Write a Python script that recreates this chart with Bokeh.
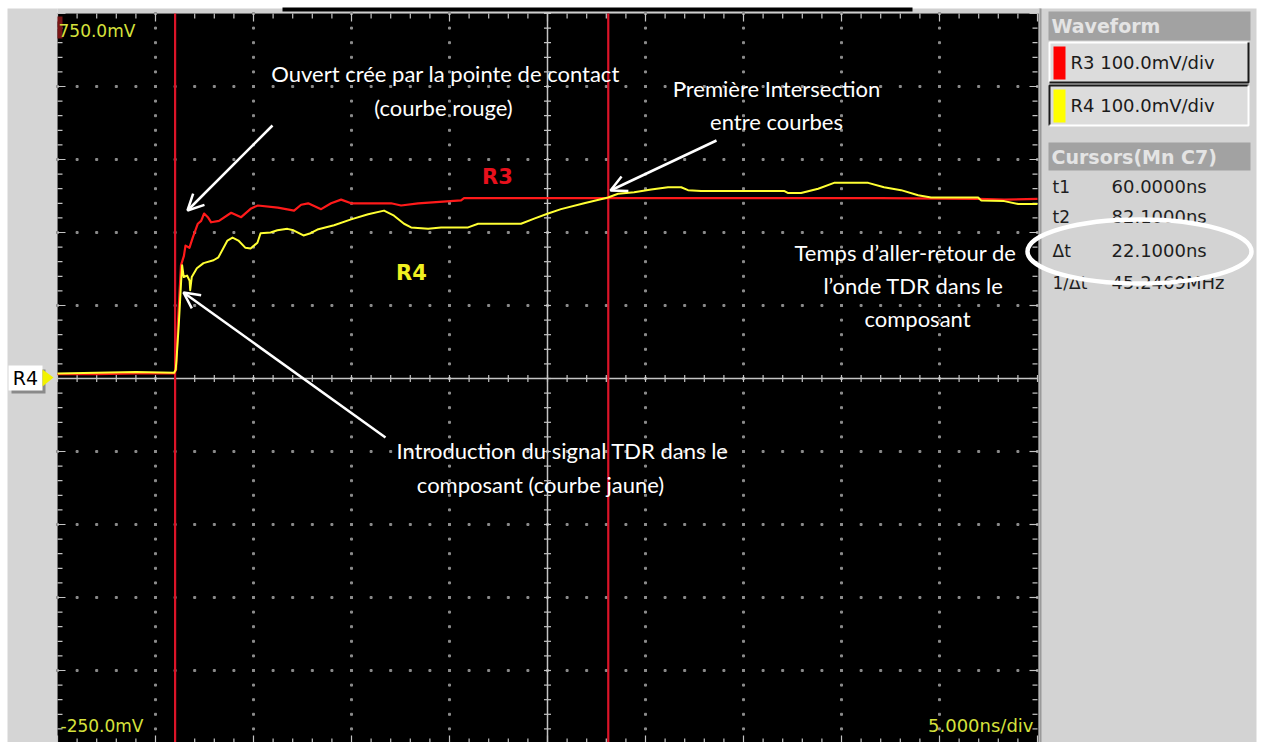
import numpy as np
from bokeh.plotting import figure
from bokeh.models import Range1d, Label, Arrow, OpenHead
from bokeh.embed import file_html
from bokeh.resources import INLINE

# ---------------- data ----------------
r4_time_ns = [54.0, 56.0, 58.0, 59.95, 60.03, 60.07, 60.19, 60.31, 60.36, 60.44, 60.61,
              60.74, 60.77, 60.85, 61.11, 61.45, 61.96, 62.21, 62.67, 62.93, 63.23, 63.59,
              63.85, 64.20, 64.36, 64.87, 65.22, 65.73, 66.04, 66.55, 66.91, 67.26, 68.11,
              68.98, 69.85, 70.66, 71.17, 71.68, 72.04, 72.91, 73.57, 74.95, 75.46, 77.65,
              78.32, 79.03, 79.69, 80.87, 82.09, 82.60, 83.42, 84.29, 85.15, 85.82, 86.17,
              86.84, 91.07, 91.28, 91.94, 92.81, 93.62, 95.36, 96.17, 97.04, 97.91, 98.57,
              100.97, 101.12, 102.30, 103.01, 104.0]
r4_mv = [257, 258, 259, 258, 262, 275, 325, 384, 405, 389, 391,
         384, 371, 389, 401, 408, 412, 416, 439, 443, 439, 429,
         428, 436, 449, 450, 453, 455, 453, 446, 449, 454, 460,
         468, 475, 480, 473, 462, 457, 455, 457, 457, 462, 462,
         469, 476, 482, 490, 498, 503, 505, 509, 512, 512, 508,
         507, 507, 504, 504, 510, 518, 518, 512, 508, 501, 498,
         498, 494, 493, 489, 489]

r3_time_ns = [54.0, 56.0, 58.0, 59.95, 60.05, 60.15, 60.30, 60.45, 60.53, 60.73, 60.90,
              61.16, 61.33, 61.48, 61.67, 61.84, 62.24, 62.86, 63.37, 63.88, 64.22, 65.24,
              66.07, 66.43, 66.79, 67.45, 67.96, 68.47, 68.98, 71.02, 71.53, 72.40, 74.59,
              74.74, 76.63, 82.09, 90.0, 96.0, 100.97, 102.30, 104.0]
r3_mv = [256, 256, 257, 257, 262, 330, 405, 418, 432, 429, 443,
         462, 466, 476, 471, 464, 466, 477, 471, 483, 487, 484,
         480, 488, 490, 482, 490, 495, 490, 490, 487, 490, 494,
         497, 497, 497, 497, 497, 496, 495, 496]

cursor_t_ns = [60.0, 82.1]
waveform_names = ["R3 100.0mV/div", "R4 100.0mV/div"]
waveform_colors = ["#ff0000", "#ffff00"]
cursor_names = ["t1", "t2", "\u0394t", "1/\u0394t"]
cursor_values = ["60.0000ns", "82.1000ns", "22.1000ns", "45.2469MHz"]
top_label, bottom_label, time_label = "750.0mV", "-250.0mV", "5.000ns/div"

T0, T1 = 54.0, 104.0          # screen time span (ns)
V0, V1 = -250.0, 750.0        # screen voltage span (mV)

# ---------------- pixel <-> data mapping helpers ----------------
W, H = 1264, 742
def tx(X):
    return T0 + (X - 57) / 19.6
def vy(Y):
    return V1 - (Y - 13) / 0.73
PXT = 1 / 19.6   # ns per px
PXV = 1 / 0.73   # mV per px

p = figure(width=W, height=H, output_backend="svg", toolbar_location=None,
           x_range=Range1d(tx(0), tx(W)), y_range=Range1d(vy(H), vy(0)),
           x_axis_location=None, y_axis_location=None, min_border=0,
           background_fill_color="white", border_fill_color="white",
           outline_line_color=None)
p.xgrid.visible = False
p.ygrid.visible = False

def box(x1, y1, x2, y2, color, **kw):
    p.quad(left=tx(x1), right=tx(x2), top=vy(y1), bottom=vy(y2),
           fill_color=color, line_color=None, **kw)

# frame pieces
box(7, 8, 57, 745, "#d5d5d5")
box(57, 8, 1040, 13, "#cfcfcf")
box(282, 7, 912, 11, "#000000")
box(1038, 8, 1256, 745, "#d3d3d3")
box(1039, 8, 1041, 745, "#9a9a9a")
# screen
p.quad(left=T0, right=T1 + 0.05, top=V1, bottom=V0, fill_color="black", line_color=None)

# dotted grid
dot_c = "#8c8c8c"
cols = [t for t in np.arange(T0 + 5, T1, 5) if abs(t - 79) > 0.1]
rows = [v for v in np.arange(V0 + 100, V1, 100) if abs(v - 250) > 0.1]
vs = np.arange(V0, V1 + 1, 20)
ts = np.arange(T0, T1 + 0.01, 1.0)
gx = np.concatenate([np.full(len(vs), c) for c in cols] + [ts for r in rows])
gy = np.concatenate([vs for c in cols] + [np.full(len(ts), r) for r in rows])
p.scatter(gx, gy, marker="square", size=2, color=dot_c)

# centre crosshair with ticks
ax_c = "#c4c4c4"
p.segment(x0=[T0, 79], y0=[250, V0], x1=[T1, 79], y1=[250, V1], line_color=ax_c, line_width=1.5)
p.segment(x0=ts, y0=250 - 3.5 * PXV, x1=ts, y1=250 + 3.5 * PXV, line_color=ax_c, line_width=1.2)
p.segment(x0=79 - 3.5 * PXT, y0=vs, x1=79 + 3.5 * PXT, y1=vs, line_color=ax_c, line_width=1.2)
# edge ticks
tl = np.where(np.isclose((ts - T0) % 5, 0), 8, 5)
p.segment(x0=ts, y0=V1, x1=ts, y1=V1 - tl * PXV, line_color=ax_c, line_width=1.2)
p.segment(x0=ts, y0=V0, x1=ts, y1=V0 + tl * PXV, line_color=ax_c, line_width=1.2)
vl = np.where(np.isclose((vs - V0) % 100, 0), 8, 5)
p.segment(x0=T0, y0=vs, x1=T0 + vl * PXT, y1=vs, line_color=ax_c, line_width=1.2)
p.segment(x0=T1, y0=vs, x1=T1 - vl * PXT, y1=vs, line_color=ax_c, line_width=1.2)

# red patch top-left and scale texts
box(57, 16, 62, 38, "#7a1515")
lbl_c = "#d6e23c"
p.add_layout(Label(x=tx(58), y=vy(30), text=top_label, text_font="DejaVu Sans", text_font_size="17px",
                   text_color=lbl_c, text_baseline="middle"))
p.add_layout(Label(x=tx(60), y=vy(725), text=bottom_label, text_font="DejaVu Sans", text_font_size="17px",
                   text_color=lbl_c, text_baseline="middle"))
p.add_layout(Label(x=tx(1033), y=vy(725), text=time_label, text_font="DejaVu Sans", text_font_size="18px",
                   text_color=lbl_c, text_baseline="middle", text_align="right"))

# cursors
for c in cursor_t_ns:
    p.segment(x0=c, y0=V0, x1=c, y1=V1, line_color="#dc1428", line_width=2.2)

# traces
p.line(r3_time_ns, r3_mv, line_color="#ff1a1a", line_width=2.2, line_join="round")
p.line(r4_time_ns, r4_mv, line_color="#ffff33", line_width=2, line_join="round")

# trace names
p.add_layout(Label(x=tx(497), y=vy(176), text="R3", text_font="DejaVu Sans", text_font_style="bold",
                   text_font_size="21px", text_color="#e8101c", text_align="center", text_baseline="middle"))
p.add_layout(Label(x=tx(411), y=vy(272), text="R4", text_font="DejaVu Sans", text_font_style="bold",
                   text_font_size="21px", text_color="#f0f020", text_align="center", text_baseline="middle"))

# R4 ground marker at left
box(11, 369, 45, 393, "#8a8a8a")
box(8, 365, 42, 390, "#ffffff")
p.add_layout(Label(x=tx(25), y=vy(377), text="R4", text_font="DejaVu Sans", text_font_size="19px",
                   text_color="black", text_align="center", text_baseline="middle"))
p.patch([tx(42), tx(53), tx(42)], [vy(369), vy(377), vy(386)], fill_color="#f2f200", line_color=None)

# annotations (white text + arrows)
ann_font = "Lato"
ann = [("Ouvert crée par la pointe de contact", 445, 73),
       ("(courbe rouge)", 443, 107),
       ("Première Intersection", 776, 88),
       ("entre courbes", 776, 121),
       ("Temps d\u2019aller-retour de", 905, 252),
       ("l\u2019onde TDR dans le", 913, 285),
       ("composant", 917, 318),
       ("Introduction du signal TDR dans le", 562, 450),
       ("composant (courbe jaune)", 540, 484)]
for txt, X, Y in ann:
    p.add_layout(Label(x=tx(X), y=vy(Y), text=txt, text_font=ann_font, text_font_size="22px",
                       text_color="white", text_align="center", text_baseline="middle"))
for (xs, ys, xe, ye) in [(272, 125, 187, 210), (716, 140, 610, 190), (385, 437, 183, 292)]:
    p.add_layout(Arrow(end=OpenHead(size=16, line_color="white", line_width=2.5),
                       x_start=tx(xs), y_start=vy(ys), x_end=tx(xe), y_end=vy(ye),
                       line_color="white", line_width=2.5))

# right panel
hdr_c = "#a2a2a2"
box(1048, 11, 1250, 40, hdr_c)
p.add_layout(Label(x=tx(1051), y=vy(25), text="Waveform", text_font="DejaVu Sans", text_font_style="bold",
                   text_font_size="19px", text_color="#e4e4e4", text_baseline="middle"))
for i, (name, col) in enumerate(zip(waveform_names, waveform_colors)):
    y1 = 42 + i * 43
    y2 = y1 + 40
    box(1049, y1, 1248, y2, "#dcdcdc")
    light, dark = ("#ffffff", "#1a1a1a") if i == 0 else ("#1a1a1a", "#ffffff")
    p.line([tx(1049), tx(1049), tx(1248)], [vy(y2), vy(y1), vy(y1)], line_color=light, line_width=2)
    p.line([tx(1049), tx(1248), tx(1248)], [vy(y2), vy(y2), vy(y1)], line_color=dark, line_width=2)
    box(1053, y1 + 4, 1065, y2 - 3, col)
    p.add_layout(Label(x=tx(1070), y=vy((y1 + y2) / 2), text=name, text_font="DejaVu Sans",
                       text_font_size="18px", text_color="#1a1a1a", text_baseline="middle"))
box(1048, 142, 1250, 170, hdr_c)
p.add_layout(Label(x=tx(1051), y=vy(156), text="Cursors(Mn C7)", text_font="DejaVu Sans",
                   text_font_style="bold", text_font_size="19px", text_color="#e4e4e4",
                   text_baseline="middle"))
for name, val, Y in zip(cursor_names, cursor_values, [186, 216, 250, 282]):
    p.add_layout(Label(x=tx(1052), y=vy(Y), text=name, text_font="DejaVu Sans", text_font_size="17px",
                       text_color="#1e1e1e", text_baseline="middle"))
    p.add_layout(Label(x=tx(1111), y=vy(Y), text=val, text_font="DejaVu Sans", text_font_size="18px",
                       text_color="#1e1e1e", text_baseline="middle"))

# white ellipse highlighting delta t (drawn above the panel texts)
p.ellipse(x=[tx(1139)], y=[vy(251)], width=224, height=64, width_units="screen", height_units="screen",
          fill_alpha=0, line_color="white", line_width=4.5, level="overlay")

open("out.html", "w").write(file_html(p, INLINE))
